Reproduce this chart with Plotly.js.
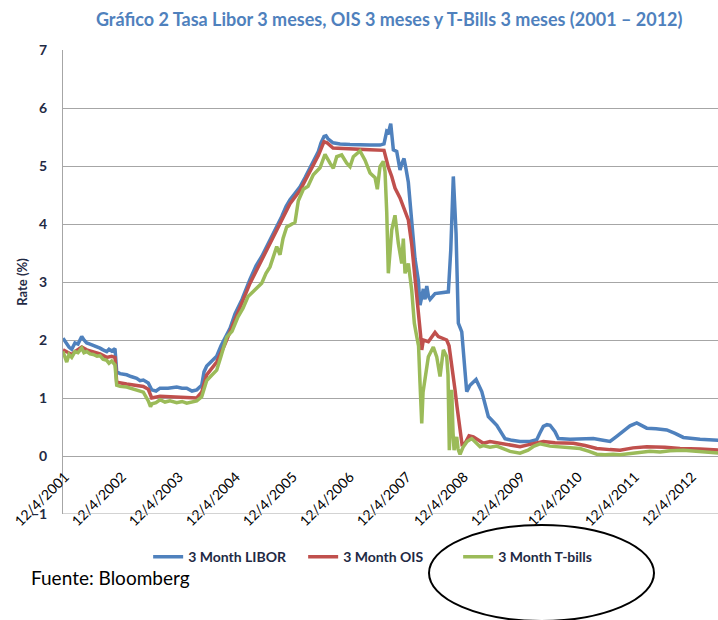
<!DOCTYPE html>
<html>
<head>
<meta charset="utf-8">
<script src="https://cdn.plot.ly/plotly-3.0.1.min.js"></script>
<style>
html,body{margin:0;padding:0;background:#ffffff;}
#chart{width:718px;height:620px;}
</style>
</head>
<body>
<div id="chart"></div>
<script>
// Time expressed as decimal years
const liborYears = [2001.890,2001.955,2001.995,2002.043,2002.100,2002.153,2002.218,2002.258,2002.306,2002.364,2002.421,2002.486,2002.539,2002.592,2002.657,2002.697,2002.744,2002.802,2002.832,2002.890,2003.007,2003.083,2003.183,2003.241,2003.299,2003.386,2003.446,2003.521,2003.592,2003.732,2003.885,2003.978,2004.060,2004.153,2004.236,2004.323,2004.364,2004.411,2004.486,2004.586,2004.662,2004.732,2004.820,2004.907,2005.030,2005.171,2005.276,2005.376,2005.469,2005.579,2005.662,2005.727,2005.802,2005.872,2005.960,2006.048,2006.136,2006.223,2006.293,2006.369,2006.416,2006.469,2006.504,2006.539,2006.627,2006.750,2006.925,2007.100,2007.276,2007.451,2007.521,2007.569,2007.600,2007.639,2007.662,2007.685,2007.744,2007.802,2007.837,2007.872,2007.907,2007.948,2008.007,2008.065,2008.123,2008.153,2008.179,2008.211,2008.241,2008.271,2008.302,2008.329,2008.416,2008.504,2008.650,2008.692,2008.714,2008.737,2008.758,2008.785,2008.825,2008.855,2008.885,2008.943,2008.972,2009.030,2009.136,2009.236,2009.351,2009.499,2009.644,2009.767,2009.907,2010.083,2010.200,2010.258,2010.316,2010.381,2010.434,2010.521,2010.579,2010.785,2010.960,2011.193,2011.364,2011.486,2011.592,2011.720,2011.837,2011.955,2012.030,2012.130,2012.293,2012.481,2012.627,2012.772,2013.065,2013.416];
const liborRates = [2.03,1.93,1.88,1.84,1.95,1.93,2.06,2.00,1.95,1.93,1.91,1.89,1.86,1.83,1.80,1.84,1.81,1.85,1.45,1.42,1.40,1.37,1.34,1.30,1.31,1.26,1.14,1.12,1.17,1.17,1.19,1.17,1.17,1.12,1.14,1.22,1.45,1.55,1.62,1.72,1.90,2.02,2.20,2.45,2.70,3.05,3.28,3.44,3.62,3.84,4.00,4.13,4.30,4.42,4.53,4.64,4.80,4.98,5.12,5.25,5.40,5.51,5.52,5.47,5.40,5.38,5.37,5.36,5.36,5.36,5.38,5.60,5.58,5.73,5.55,5.28,5.25,4.93,5.05,5.13,4.95,4.72,4.05,3.40,3.03,2.60,2.72,2.88,2.70,2.93,2.75,2.70,2.80,2.81,2.83,3.55,4.30,4.82,4.40,3.84,2.29,2.20,2.14,1.45,1.11,1.22,1.32,1.11,0.68,0.53,0.30,0.27,0.25,0.25,0.28,0.40,0.51,0.54,0.53,0.42,0.30,0.29,0.30,0.30,0.27,0.25,0.33,0.42,0.52,0.57,0.53,0.48,0.47,0.45,0.39,0.32,0.29,0.27];

const oisYears = [2001.890,2001.960,2002.043,2002.100,2002.218,2002.306,2002.421,2002.539,2002.657,2002.744,2002.802,2002.832,2003.007,2003.183,2003.299,2003.386,2003.446,2003.592,2003.885,2004.060,2004.236,2004.323,2004.411,2004.586,2004.732,2004.907,2005.171,2005.376,2005.579,2005.727,2005.872,2006.048,2006.223,2006.369,2006.469,2006.521,2006.627,2006.925,2007.276,2007.521,2007.569,2007.597,2007.657,2007.685,2007.714,2007.802,2007.890,2007.948,2008.007,2008.065,2008.123,2008.165,2008.183,2008.211,2008.299,2008.416,2008.474,2008.621,2008.662,2008.709,2008.767,2008.802,2008.855,2008.890,2008.943,2009.013,2009.088,2009.264,2009.381,2009.557,2009.907,2010.083,2010.316,2010.521,2010.843,2011.048,2011.253,2011.486,2011.662,2011.890,2012.130,2012.451,2012.714,2013.065,2013.416];
const oisRates = [1.83,1.80,1.75,1.80,1.88,1.83,1.80,1.76,1.70,1.72,1.70,1.27,1.24,1.22,1.20,1.15,1.00,1.03,1.02,1.02,1.00,1.10,1.40,1.62,1.93,2.35,2.98,3.38,3.78,4.05,4.35,4.58,4.92,5.18,5.42,5.40,5.31,5.29,5.28,5.27,5.07,4.98,4.82,4.70,4.62,4.45,4.24,4.07,3.65,3.09,2.57,2.06,1.83,2.00,1.97,2.13,2.06,2.00,1.90,1.60,1.14,0.85,0.51,0.20,0.22,0.35,0.33,0.22,0.25,0.22,0.16,0.20,0.25,0.23,0.22,0.18,0.13,0.11,0.10,0.14,0.16,0.15,0.13,0.12,0.10];

const tbillYears = [2001.890,2001.925,2001.955,2001.995,2002.043,2002.100,2002.153,2002.218,2002.258,2002.306,2002.364,2002.421,2002.486,2002.539,2002.592,2002.657,2002.697,2002.744,2002.802,2002.832,2002.890,2003.007,2003.083,2003.183,2003.241,2003.299,2003.386,2003.425,2003.451,2003.521,2003.592,2003.679,2003.767,2003.885,2003.978,2004.060,2004.153,2004.236,2004.323,2004.411,2004.486,2004.586,2004.662,2004.762,2004.855,2004.960,2005.048,2005.136,2005.241,2005.376,2005.451,2005.521,2005.639,2005.697,2005.750,2005.814,2005.872,2005.960,2006.018,2006.106,2006.188,2006.281,2006.399,2006.486,2006.574,2006.632,2006.692,2006.779,2006.867,2006.925,2006.983,2007.100,2007.188,2007.276,2007.364,2007.404,2007.451,2007.509,2007.539,2007.569,2007.597,2007.627,2007.657,2007.714,2007.772,2007.832,2007.860,2007.890,2007.948,2008.007,2008.053,2008.095,2008.127,2008.153,2008.183,2008.206,2008.241,2008.299,2008.386,2008.446,2008.504,2008.530,2008.562,2008.621,2008.644,2008.667,2008.688,2008.709,2008.732,2008.750,2008.776,2008.797,2008.820,2008.855,2008.907,2008.978,2009.060,2009.136,2009.206,2009.264,2009.381,2009.499,2009.609,2009.732,2009.907,2010.048,2010.153,2010.258,2010.434,2010.609,2010.785,2010.960,2011.118,2011.253,2011.399,2011.539,2011.662,2011.802,2012.013,2012.188,2012.364,2012.539,2012.772,2012.925,2013.065,2013.241,2013.416];
const tbillRates = [1.80,1.72,1.62,1.75,1.70,1.80,1.78,1.86,1.78,1.80,1.76,1.75,1.72,1.73,1.67,1.65,1.60,1.64,1.57,1.22,1.20,1.19,1.17,1.15,1.12,1.10,0.95,0.85,0.90,0.92,0.97,0.93,0.95,0.92,0.94,0.91,0.93,0.95,1.02,1.30,1.38,1.48,1.72,2.05,2.15,2.40,2.55,2.75,2.85,2.98,3.15,3.26,3.61,3.47,3.75,3.95,3.98,4.03,4.40,4.60,4.65,4.85,4.97,5.20,5.05,4.96,5.16,5.19,5.05,4.99,5.16,5.26,5.10,4.88,4.80,4.60,4.99,5.08,4.90,4.20,3.15,3.60,3.90,4.15,3.67,3.32,3.75,3.15,3.32,2.86,2.29,2.06,1.90,1.25,0.56,1.10,1.37,1.71,1.88,1.71,1.37,1.60,1.83,1.71,1.40,0.10,0.60,1.14,0.40,0.10,0.25,0.33,0.12,0.03,0.15,0.25,0.30,0.22,0.16,0.18,0.15,0.17,0.12,0.08,0.05,0.10,0.17,0.21,0.17,0.16,0.14,0.13,0.08,0.03,0.02,0.03,0.02,0.04,0.07,0.08,0.07,0.09,0.10,0.09,0.07,0.06,0.05];

const tickYears = [2001.925,2002.925,2003.925,2004.925,2005.925,2006.925,2007.925,2008.925,2009.925,2010.925,2011.925,2012.925];
const tickLabels = ['12/4/2001','12/4/2002','12/4/2003','12/4/2004','12/4/2005','12/4/2006','12/4/2007','12/4/2008','12/4/2009','12/4/2010','12/4/2011','12/4/2012'];
const seriesNames = ['3 Month LIBOR','3 Month OIS','3 Month T-bills'];
const seriesColors = ['#4F81BD','#C0504D','#9BBB59'];

const traces = [
  {x: liborYears, y: liborRates},
  {x: oisYears, y: oisRates},
  {x: tbillYears, y: tbillRates}
].map((d, i) => ({
  type: 'scatter', mode: 'lines', x: d.x, y: d.y,
  name: seriesNames[i],
  line: {color: seriesColors[i], width: 3.5}
}));

const layout = {
  width: 718, height: 620,
  margin: {l: 63, r: 0, t: 50, b: 106, pad: 0},
  paper_bgcolor: '#ffffff', plot_bgcolor: '#ffffff',
  font: {family: 'Lato, "Open Sans", sans-serif', color: '#000000'},
  title: {
    text: 'Gráfico 2 Tasa Libor 3 meses, OIS 3 meses y T-Bills 3 meses (2001 – 2012)',
    font: {family: 'Lato, sans-serif', size: 18, color: '#4F81BD', weight: 'bold'},
    x: 0.498, xanchor: 'center', xref: 'paper', y: 0.969, yanchor: 'middle', yref: 'container'
  },
  xaxis: {
    type: 'linear', range: [2001.89, 2013.38],
    tickmode: 'array', tickvals: tickYears, ticktext: tickLabels,
    tickangle: -45, ticks: '', showgrid: false, zeroline: false, showline: false,
    anchor: 'free', position: 0.125, ticklabelstandoff: 9,
    tickfont: {family: 'Lato, sans-serif', size: 14, color: '#000000'}
  },
  yaxis: {
    range: [-1, 7], dtick: 1, tick0: 0,
    showgrid: true, gridcolor: '#A6A6A6', gridwidth: 1,
    zeroline: false, showline: true, linecolor: '#A6A6A6', linewidth: 1,
    ticks: '', ticklabelstandoff: 12,
    tickfont: {family: 'Lato, sans-serif', size: 14, color: '#1F2A44', weight: 'bold'},
    title: {text: 'Rate (%)', standoff: 0, font: {family: 'Lato, sans-serif', size: 13, color: '#1F2A44', weight: 'bold'}}
  },
  showlegend: true,
  legend: {
    orientation: 'h', x: 0.13, xanchor: 'left', y: -0.093, yanchor: 'middle',
    font: {family: 'Lato, sans-serif', size: 14, color: '#1F2A44', weight: 'bold'},
    bgcolor: 'rgba(0,0,0,0)', itemwidth: 30, traceorder: 'normal',
    entrywidth: 110, entrywidthmode: 'pixels'
  },
  shapes: [
    {type: 'line', xref: 'paper', yref: 'y', x0: 0, x1: 1, y0: -1, y1: -1, line: {color: '#A6A6A6', width: 1}},
    {type: 'circle', xref: 'paper', yref: 'paper', x0: 0.5588, x1: 0.9023, y0: -0.0237, y1: -0.2306, line: {color: '#000000', width: 2}, fillcolor: 'rgba(0,0,0,0)'}
  ],
  annotations: [
    {text: 'Fuente: Bloomberg', xref: 'paper', yref: 'paper', x: -0.052, y: -0.1358, xanchor: 'left', yanchor: 'middle', showarrow: false,
     font: {family: 'Lato, sans-serif', size: 19, color: '#000000'}}
  ]
};

Plotly.newPlot('chart', traces, layout, {staticPlot: true, displayModeBar: false});
</script>
</body>
</html>
